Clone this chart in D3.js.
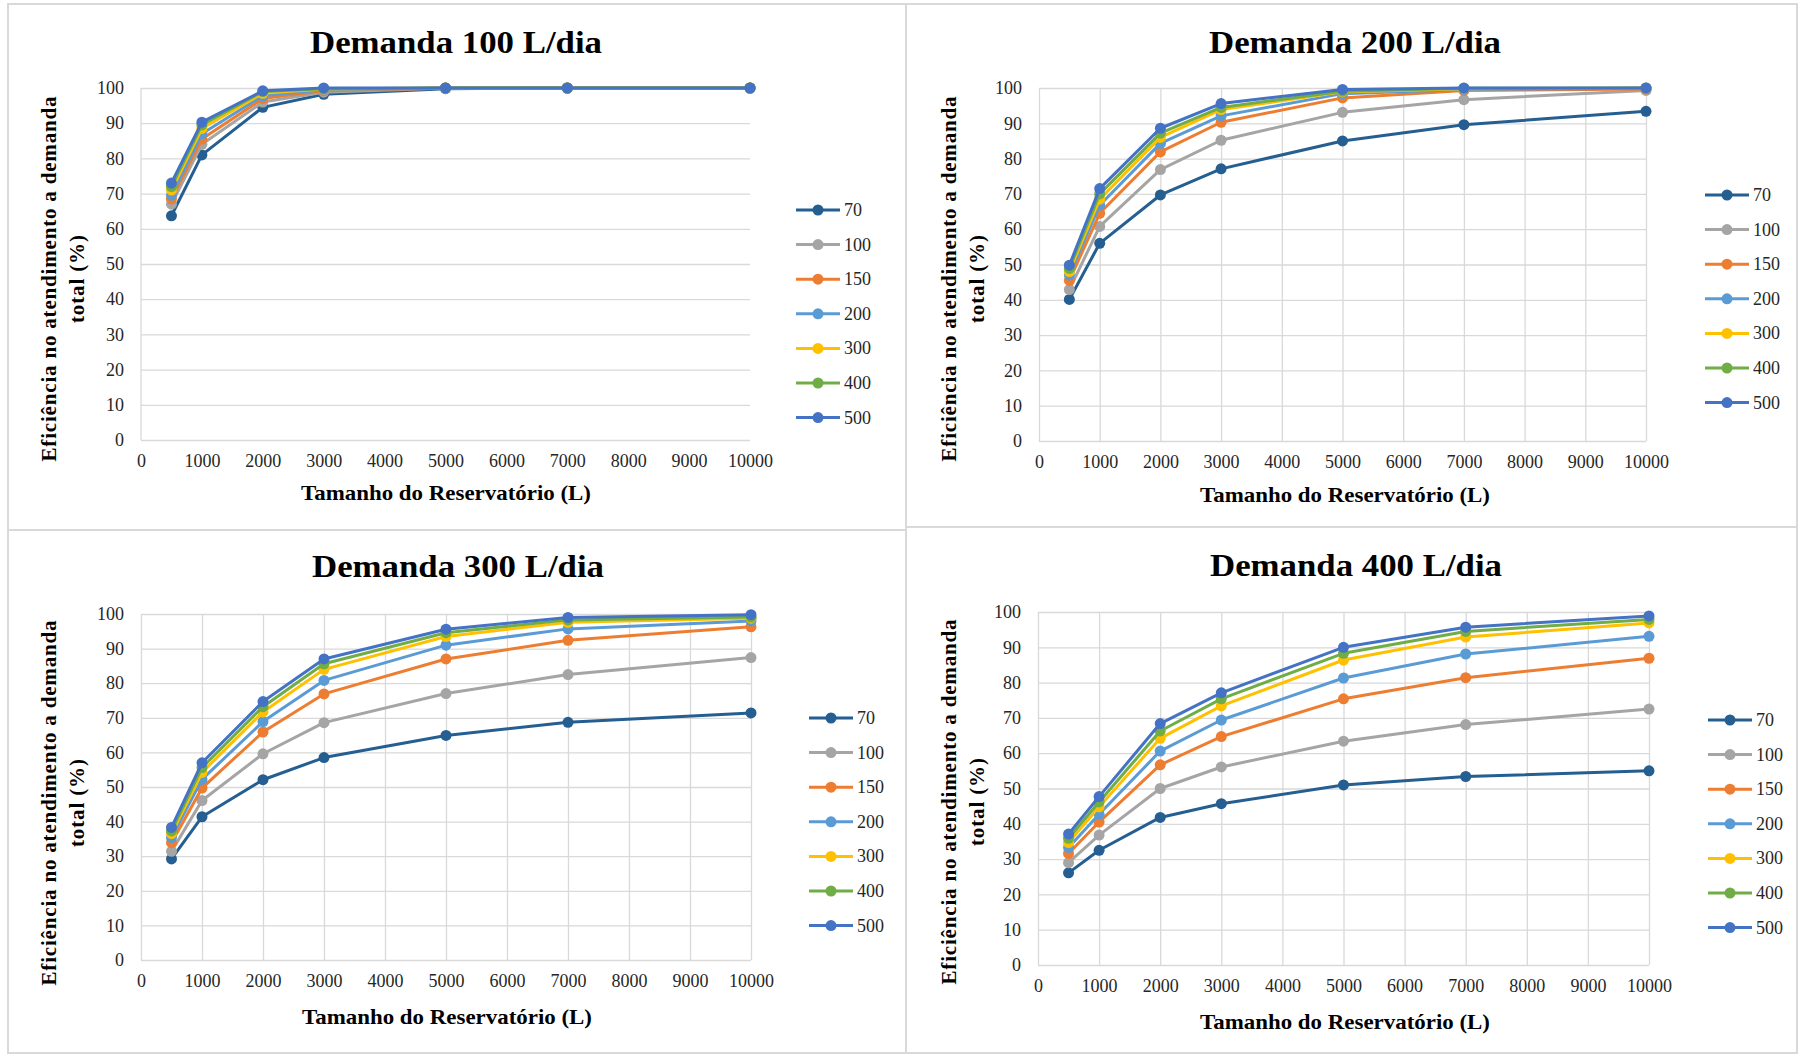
<!DOCTYPE html>
<html>
<head>
<meta charset="utf-8">
<script src="https://cdn.jsdelivr.net/npm/d3@7"></script>
<style>
  body { margin: 0; background: #fff; }
  text { font-family: "Liberation Serif", "Times New Roman", serif; }
</style>
</head>
<body>
<script>
// Data
const reservatorio = [500, 1000, 2000, 3000, 5000, 7000, 10000];
const seriesNames = ['70', '100', '150', '200', '300', '400', '500'];
const seriesColors = ['#255e91', '#a5a5a5', '#ed7d31', '#5b9bd5', '#ffc000', '#70ad47', '#4472c4'];
const xTickValues = [0, 1000, 2000, 3000, 4000, 5000, 6000, 7000, 8000, 9000, 10000];
const yTickValues = [0, 10, 20, 30, 40, 50, 60, 70, 80, 90, 100];

const demanda100 = [
  [63.7, 81.0, 94.5, 98.2, 99.8, 100, 100],
  [67.0, 84.0, 96.0, 98.8, 100, 100, 100],
  [68.5, 85.5, 97.0, 99.2, 100, 100, 100],
  [69.5, 87.0, 97.8, 99.5, 100, 100, 100],
  [71.0, 88.5, 98.5, 99.7, 100, 100, 100],
  [72.0, 89.5, 99.0, 99.8, 100, 100, 100],
  [73.0, 90.3, 99.2, 100, 100, 100, 100]
];
const demanda200 = [
  [40.1, 56.0, 69.7, 77.1, 85.0, 89.6, 93.4],
  [42.9, 60.8, 76.9, 85.2, 93.1, 96.7, 99.3],
  [45.5, 64.5, 81.9, 90.3, 97.2, 99.3, 99.7],
  [47.0, 66.8, 84.3, 92.1, 98.4, 99.6, 99.9],
  [48.0, 68.5, 86.0, 93.9, 98.9, 99.8, 99.9],
  [48.9, 70.0, 87.2, 94.5, 99.1, 99.9, 100],
  [49.8, 71.5, 88.6, 95.6, 99.6, 100, 100]
];
const demanda300 = [
  [29.2, 41.4, 52.1, 58.5, 64.9, 68.7, 71.4],
  [31.4, 46.1, 59.6, 68.6, 77.0, 82.5, 87.4],
  [33.9, 49.7, 65.9, 76.9, 87.0, 92.4, 96.3],
  [35.4, 52.2, 68.9, 80.8, 91.0, 95.7, 98.0],
  [36.5, 54.2, 71.7, 84.0, 93.5, 97.6, 98.8],
  [37.3, 55.6, 73.2, 85.6, 94.6, 98.3, 99.1],
  [38.3, 57.0, 74.7, 87.0, 95.6, 99.0, 99.8]
];
const demanda400 = [
  [26.1, 32.5, 41.8, 45.7, 51.0, 53.4, 55.0],
  [29.0, 36.8, 50.0, 56.1, 63.4, 68.1, 72.5],
  [31.6, 40.5, 56.7, 64.7, 75.4, 81.4, 86.9],
  [33.3, 42.7, 60.6, 69.4, 81.3, 88.1, 93.1],
  [34.7, 44.8, 64.2, 73.4, 86.4, 92.9, 96.9],
  [35.9, 46.2, 66.3, 75.4, 88.3, 94.5, 97.9],
  [37.1, 47.7, 68.4, 77.1, 90.0, 95.7, 98.9]
];

const titles = ['Demanda 100 L/dia', 'Demanda 200 L/dia', 'Demanda 300 L/dia', 'Demanda 400 L/dia'];
const panelData = [demanda100, demanda200, demanda300, demanda400];

// Layout for each panel (pixel boxes)
const panels = [
  { box: [8, 4, 906, 530], plot: [141, 88, 750, 440], vgrid: false, titleX: 456, titleY: 53,
    legX: 796, legY: 210, ylabX: 49, ylabY: 279, xlabX: 446, xlabY: 500 },
  { box: [906, 4, 1797, 527], plot: [1039, 88, 1646, 441], vgrid: true, titleX: 1355, titleY: 53,
    legX: 1705, legY: 195, ylabX: 949, ylabY: 279, xlabX: 1345, xlabY: 502 },
  { box: [8, 530, 906, 1053], plot: [141, 614, 751, 960], vgrid: true, titleX: 458, titleY: 577,
    legX: 809, legY: 718, ylabX: 49, ylabY: 803, xlabX: 447, xlabY: 1024 },
  { box: [906, 527, 1797, 1053], plot: [1038, 612, 1649, 965], vgrid: true, titleX: 1356, titleY: 576,
    legX: 1708, legY: 720, ylabX: 949, ylabY: 802, xlabX: 1345, xlabY: 1029 }
];

const svg = d3.select('body')
  .append('svg')
  .attr('width', 1798)
  .attr('height', 1057);

panels.forEach((p, k) => {
  const g = svg.append('g');
  const [x0, y0, x1, y1] = p.plot;

  g.append('rect')
    .attr('x', p.box[0]).attr('y', p.box[1])
    .attr('width', p.box[2] - p.box[0]).attr('height', p.box[3] - p.box[1])
    .attr('fill', 'none').attr('stroke', '#d9d9d9').attr('stroke-width', 2);

  const x = d3.scaleLinear().domain([0, 10000]).range([x0, x1]);
  const y = d3.scaleLinear().domain([0, 100]).range([y1, y0]);

  // gridlines
  g.append('g')
    .attr('transform', `translate(${x0},0)`)
    .call(d3.axisLeft(y).tickValues(yTickValues).tickSize(-(x1 - x0)).tickFormat(''))
    .call(a => a.select('.domain').remove())
    .selectAll('line').attr('stroke', '#d9d9d9').attr('stroke-width', 1.3);

  if (p.vgrid) {
    g.append('g')
      .attr('transform', `translate(0,${y1})`)
      .call(d3.axisBottom(x).tickValues(xTickValues).tickSize(-(y1 - y0)).tickFormat(''))
      .call(a => a.select('.domain').remove())
      .selectAll('line').attr('stroke', '#d9d9d9').attr('stroke-width', 1.3);
  } else {
    g.append('line')
      .attr('x1', x0).attr('x2', x0).attr('y1', y0).attr('y2', y1)
      .attr('stroke', '#d9d9d9').attr('stroke-width', 1.3);
  }

  // tick labels
  const yAx = g.append('g')
    .attr('transform', `translate(${x0},0)`)
    .call(d3.axisLeft(y).tickValues(yTickValues).tickSize(0).tickPadding(17).tickFormat(d3.format('d')));
  yAx.select('.domain').remove();
  yAx.attr('font-family', null);
  yAx.selectAll('text').attr('font-size', 18).attr('fill', '#262626');

  const xAx = g.append('g')
    .attr('transform', `translate(0,${y1})`)
    .call(d3.axisBottom(x).tickValues(xTickValues).tickSize(0).tickPadding(14).tickFormat(d3.format('d')));
  xAx.select('.domain').remove();
  xAx.attr('font-family', null);
  xAx.selectAll('text').attr('font-size', 18).attr('fill', '#262626');

  // series
  const line = d3.line().x((d, i) => x(reservatorio[i])).y(d => y(d));
  panelData[k].forEach((vals, s) => {
    g.append('path')
      .datum(vals)
      .attr('d', line)
      .attr('fill', 'none')
      .attr('stroke', seriesColors[s])
      .attr('stroke-width', 3)
      .attr('stroke-linejoin', 'round');
    g.selectAll(null)
      .data(vals)
      .join('circle')
      .attr('cx', (d, i) => x(reservatorio[i]))
      .attr('cy', d => y(d))
      .attr('r', 5.5)
      .attr('fill', seriesColors[s]);
  });

  // title
  g.append('text')
    .attr('x', p.titleX).attr('y', p.titleY)
    .attr('text-anchor', 'middle')
    .attr('font-size', 31).attr('font-weight', 'bold')
    .attr('textLength', 292).attr('lengthAdjust', 'spacingAndGlyphs')
    .text(titles[k]);

  // axis titles
  g.append('text')
    .attr('x', p.xlabX).attr('y', p.xlabY)
    .attr('text-anchor', 'middle')
    .attr('font-size', 22).attr('font-weight', 'bold')
    .attr('textLength', 290).attr('lengthAdjust', 'spacingAndGlyphs')
    .text('Tamanho do Reservatório (L)');

  const yl = g.append('g')
    .attr('transform', `translate(${p.ylabX},${p.ylabY}) rotate(-90)`);
  yl.append('text')
    .attr('x', 0).attr('y', 7)
    .attr('text-anchor', 'middle')
    .attr('font-size', 21).attr('font-weight', 'bold')
    .attr('textLength', 365).attr('lengthAdjust', 'spacing')
    .text('Eficiência no atendimento a demanda');
  yl.append('text')
    .attr('x', 0).attr('y', 35)
    .attr('text-anchor', 'middle')
    .attr('font-size', 21).attr('font-weight', 'bold')
    .attr('textLength', 88).attr('lengthAdjust', 'spacing')
    .text('total (%)');

  // legend
  const leg = g.append('g');
  seriesNames.forEach((name, s) => {
    const ly = p.legY + s * 34.6;
    leg.append('line')
      .attr('x1', p.legX).attr('x2', p.legX + 44)
      .attr('y1', ly).attr('y2', ly)
      .attr('stroke', seriesColors[s]).attr('stroke-width', 3);
    leg.append('circle')
      .attr('cx', p.legX + 22).attr('cy', ly).attr('r', 5.5)
      .attr('fill', seriesColors[s]);
    leg.append('text')
      .attr('x', p.legX + 48).attr('y', ly + 6)
      .attr('font-size', 18).attr('fill', '#262626')
      .text(name);
  });
});
</script>
</body>
</html>
